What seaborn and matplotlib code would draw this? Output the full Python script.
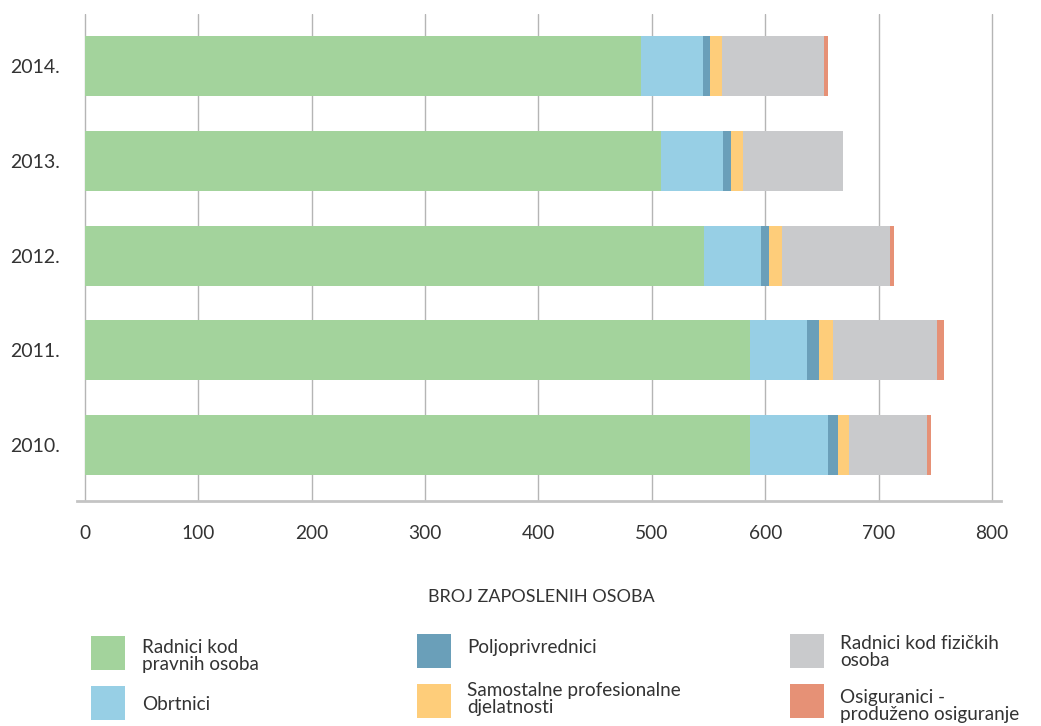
import numpy as np
import pandas as pd
import matplotlib
matplotlib.use("Agg")
import matplotlib.pyplot as plt
import seaborn as sns
from matplotlib.patches import Rectangle

# Data (thousands of employed persons)
years = ["2014.", "2013.", "2012.", "2011.", "2010."]
radnici_pravne = [490, 508, 546, 587, 587]
obrtnici = [55.5, 55, 50, 50, 68]
poljoprivrednici = [6, 7, 7, 10.5, 9.5]
samostalne = [10.5, 10, 12, 12, 9.7]
radnici_fizicke = [89.5, 89, 95.5, 92, 68.7]
osiguranici = [3.5, 0, 3.5, 6, 3.7]

series_names = ["Radnici kod\npravnih osoba", "Obrtnici", "Poljoprivrednici",
                "Samostalne profesionalne\ndjelatnosti", "Radnici kod fizičkih\nosoba",
                "Osiguranici -\nproduženo osiguranje"]
colors = ["#a3d39c", "#97cfe5", "#6a9fb9", "#fecd7a", "#c9cacc", "#e69176"]

tick_values = [0, 100, 200, 300, 400, 500, 600, 700, 800]
xlabel = "BROJ ZAPOSLENIH OSOBA"

df = pd.DataFrame({"year": years,
                   "s0": radnici_pravne, "s1": obrtnici, "s2": poljoprivrednici,
                   "s3": samostalne, "s4": radnici_fizicke, "s5": osiguranici})
cols = ["s0", "s1", "s2", "s3", "s4", "s5"]
cum = df[cols].cumsum(axis=1)
cum["year"] = df["year"]

sns.set_style("white")
plt.rcParams["font.family"] = ["Lato", "DejaVu Sans"]
text_color = "#333333"
grid_color = "#b5b5b5"

W, H = 1041, 726
fig = plt.figure(figsize=(W / 100, H / 100), dpi=100)
ax = fig.add_axes([77 / W, 1 - 501 / H, 924 / W, 487 / H])

# stacked bars: draw cumulative totals from the outermost segment inward
for i in range(len(cols) - 1, -1, -1):
    sns.barplot(data=cum, x=cols[i], y="year", order=years, orient="h",
                color=colors[i], saturation=1, width=0.634, errorbar=None,
                linewidth=0, ax=ax, zorder=2)

ax.set_xlim(-7.1, 808)
ax.set_ylim(4.59, -0.55)
ax.set_xticks(tick_values)
ax.set_xticklabels([str(v) for v in tick_values])
ax.set_xlabel("")
ax.set_ylabel("")

ax.grid(axis="x", color=grid_color, linewidth=1.0, zorder=0)
ax.grid(axis="y", visible=False)
ax.set_axisbelow(True)

for s in ["top", "right", "left"]:
    ax.spines[s].set_visible(False)
ax.spines["bottom"].set_color("#c4c4c4")
ax.spines["bottom"].set_linewidth(2)

ax.tick_params(axis="x", length=6, width=1.0, color=grid_color, pad=11,
               labelsize=13.8, labelcolor=text_color)
ax.tick_params(axis="y", length=0, pad=12, labelsize=14, labelcolor=text_color)

fig.text(541 / W, 1 - 597 / H, xlabel, ha="center", va="center",
         fontsize=13, color=text_color)

# legend, laid out by hand in three columns
legend_items = [
    (91, 636, 142, 656),
    (91, 686, 142, 704),
    (417, 634, 467, 648),
    (417, 684, 467, 699),
    (790, 634, 840, 652),
    (790, 684, 840, 706),
]
for (sx, sy, tx, ty), name, c in zip(legend_items, series_names, colors):
    fig.add_artist(Rectangle((sx / W, 1 - (sy + 34) / H), 34 / W, 34 / H,
                             transform=fig.transFigure, facecolor=c,
                             edgecolor="none"))
    fig.text(tx / W, 1 - ty / H, name, ha="left", va="center", fontsize=13.6,
             color=text_color, linespacing=0.95)

fig.savefig("out.png", dpi=100)
